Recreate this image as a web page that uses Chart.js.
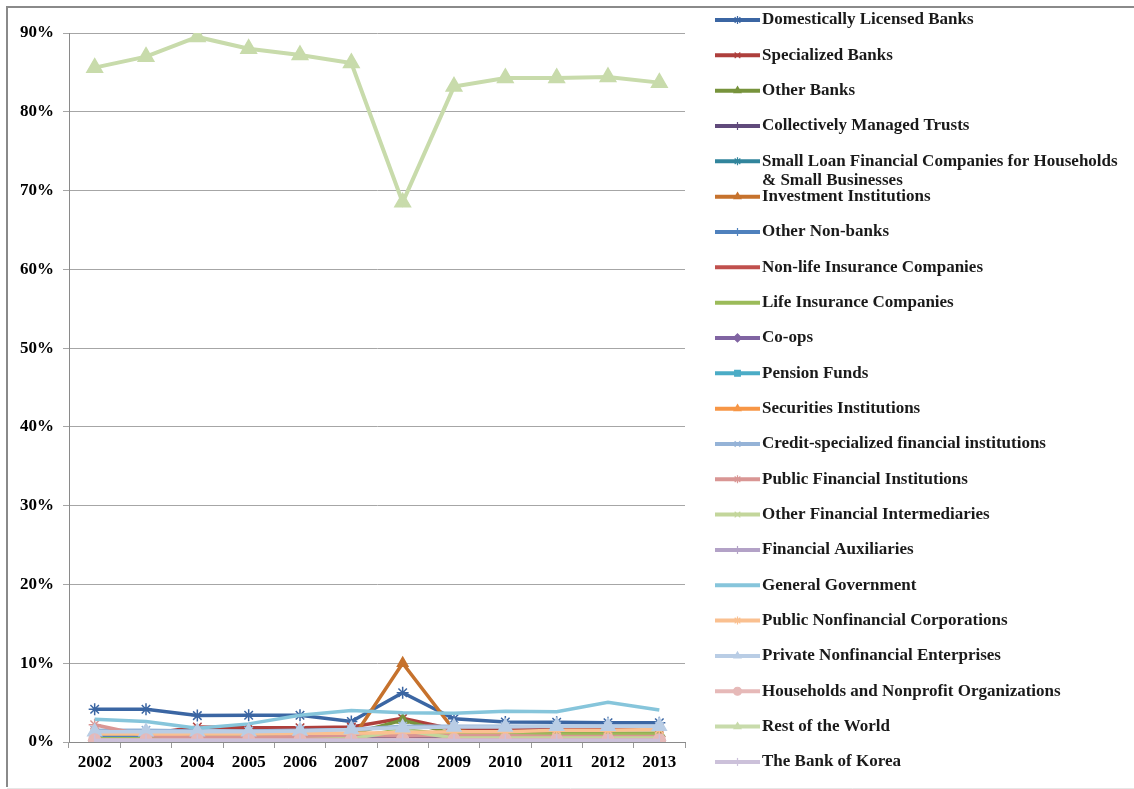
<!DOCTYPE html>
<html>
<head>
<meta charset="utf-8">
<script src="https://cdn.jsdelivr.net/npm/chart.js@4/dist/chart.umd.min.js"></script>
<style>
  html, body { margin: 0; padding: 0; background: #fff; }
  #wrap { position: relative; width: 1134px; height: 789px; }
</style>
</head>
<body>
<div id="wrap"><canvas id="flowChart" width="1134" height="789"></canvas></div>
<script>
// values in percent, 2002..2013
const years = ["2002", "2003", "2004", "2005", "2006", "2007", "2008", "2009", "2010", "2011", "2012", "2013"];

const domesticBanks   = [4.15, 4.15, 3.35, 3.4, 3.4, 2.6, 6.25, 2.95, 2.55, 2.5, 2.45, 2.45];
const specialBanks    = [1.0, 1.0, 1.9, 1.8, 1.8, 1.9, 3.0, 1.6, 1.6, 1.65, 1.6, 1.7];
const otherBanks      = [0.7, 0.7, 0.7, 0.7, 0.8, 1.0, 2.8, 1.0, 1.0, 1.1, 1.1, 1.1];
const trusts          = [0.5, 0.5, 0.4, 0.4, 0.4, 0.5, 0.6, 0.5, 0.5, 0.5, 0.5, 0.5];
const smallLoan       = [0.1, 0.1, 0.1, 0.1, 0.1, 0.1, 0.15, 0.1, 0.1, 0.1, 0.1, 0.1];
const investInst      = [0.3, 0.3, 0.2, 0.2, 0.2, 0.2, 10.0, 1.5, 0.8, 0.7, 0.7, 0.6];
const otherNonBanks   = [0.6, 0.6, 0.6, 0.6, 0.6, 0.6, 0.8, 0.8, 0.8, 0.9, 0.9, 0.9];
const nonLifeIns      = [0.3, 0.3, 0.3, 0.3, 0.3, 0.3, 0.4, 0.3, 0.3, 0.3, 0.3, 0.3];
const lifeIns         = [0.4, 0.4, 0.4, 0.5, 0.5, 0.6, 1.6, 0.9, 0.9, 1.0, 1.0, 1.0];
const coops           = [0.2, 0.2, 0.2, 0.2, 0.2, 0.2, 0.25, 0.2, 0.2, 0.2, 0.2, 0.2];
const pensionFunds    = [0, 0, 0, 0, 0, 0, 0, 0, 0, 0, 0, 0];
const securitiesInst  = [0, 0, 0, 0, 0, 0, 0, 0, 0, 0, 0, 0];
const creditSpecial   = [1.5, 1.5, 1.4, 1.4, 1.5, 1.6, 2.0, 2.0, 2.0, 2.0, 2.0, 2.0];
const publicFinInst   = [2.2, 0.8, 0.6, 0.6, 0.7, 0.8, 0.9, 0.8, 0.8, 0.7, 0.7, 0.7];
const otherFinInterm  = [0.3, 0.3, 0.3, 0.3, 0.3, 0.4, 1.5, 0.5, 0.5, 0.5, 0.5, 0.5];
const finAuxiliaries  = [0.3, 0.3, 0.3, 0.3, 0.3, 0.3, 0.35, 0.3, 0.3, 0.3, 0.3, 0.3];
const generalGov      = [2.9, 2.6, 1.75, 2.3, 3.4, 4.0, 3.7, 3.65, 3.9, 3.85, 5.05, 4.05];
const publicNonfin    = [1.0, 1.0, 1.0, 1.0, 1.1, 1.1, 1.2, 1.3, 1.3, 1.5, 1.5, 1.6];
const privateNonfin   = [1.3, 1.3, 1.3, 1.3, 1.4, 1.6, 1.8, 1.9, 1.9, 2.0, 2.0, 2.0];
const households      = [0.25, 0.25, 0.25, 0.25, 0.25, 0.25, 0.3, 0.25, 0.25, 0.25, 0.25, 0.25];
const restOfWorld     = [85.6, 87.0, 89.5, 88.0, 87.2, 86.2, 68.5, 83.2, 84.3, 84.3, 84.4, 83.7];
const bankOfKorea     = [0.2, 0.2, 0.2, 0.2, 0.2, 0.2, 0.25, 0.2, 0.2, 0.2, 0.2, 0.2];

const seriesNames = [
  "Domestically Licensed Banks", "Specialized Banks", "Other Banks", "Collectively Managed Trusts",
  ["Small Loan Financial Companies for Households", "& Small Businesses"], "Investment Institutions",
  "Other Non-banks", "Non-life Insurance Companies", "Life Insurance Companies", "Co-ops",
  "Pension Funds", "Securities Institutions", "Credit-specialized financial institutions",
  "Public Financial Institutions", "Other Financial Intermediaries", "Financial Auxiliaries",
  "General Government", "Public Nonfinancial Corporations", "Private Nonfinancial Enterprises",
  "Households and Nonprofit Organizations", "Rest of the World", "The Bank of Korea"
];

const seriesData = [
  domesticBanks, specialBanks, otherBanks, trusts, smallLoan, investInst,
  otherNonBanks, nonLifeIns, lifeIns, coops, pensionFunds, securitiesInst,
  creditSpecial, publicFinInst, otherFinInterm, finAuxiliaries, generalGov,
  publicNonfin, privateNonfin, households, restOfWorld, bankOfKorea
];

const seriesColors = [
  "#3b66a3", "#ae3f3c", "#77933c", "#604a7b", "#31859c", "#c6722d",
  "#4f81bd", "#c0504d", "#9bbb59", "#8064a2", "#4bacc6", "#f79646",
  "#95b3d7", "#d99694", "#c3d69b", "#b3a2c7", "#86c5db", "#fac090",
  "#b9cde5", "#e6b9b8", "#c8dbab", "#ccc1da"
];

// marker style per series: [pointStyle, rotation] (null = no marker)
const seriesMarkers = [
  ["star", 0], ["crossRot", 0], ["triangle", 0], ["line", 90], ["star", 0], ["triangle", 0],
  ["line", 90], null, null, ["rectRot", 0], ["rect", 0], ["triangle", 0],
  ["crossRot", 0], ["star", 0], ["crossRot", 0], ["line", 90], null, ["star", 0],
  ["triangle", 0], ["circle", 0], ["triangle", 0], ["line", 90]
];

const serif = "'Liberation Serif', 'Times New Roman', serif";

const datasets = seriesData.map((data, i) => {
  const m = seriesMarkers[i];
  const isRow = i === 20;
  let radius = 6;
  if (isRow) radius = 9;
  if (i === 18) radius = 8;
  return {
    label: Array.isArray(seriesNames[i]) ? seriesNames[i].join(" ") : seriesNames[i],
    data: data,
    borderColor: seriesColors[i],
    backgroundColor: seriesColors[i],
    pointBackgroundColor: seriesColors[i],
    pointBorderColor: seriesColors[i],
    borderWidth: isRow ? 4 : 3.5,
    pointStyle: m ? m[0] : false,
    pointRotation: m ? m[1] : 0,
    pointRadius: m ? radius : 0,
    pointBorderWidth: 1.5,
    tension: 0,
    order: seriesData.length - i
  };
});

// frame around the whole picture + legend on the right
const frameAndLegend = {
  id: "frameAndLegend",
  afterDraw(chart) {
    const ctx = chart.ctx;
    ctx.save();
    ctx.strokeStyle = "#8a8a8a";
    ctx.lineWidth = 2;
    ctx.beginPath();
    ctx.moveTo(7, 787);
    ctx.lineTo(7, 7);
    ctx.lineTo(1134, 7);
    ctx.stroke();
    ctx.strokeStyle = "#e6e6e6";
    ctx.lineWidth = 1;
    ctx.beginPath();
    ctx.moveTo(7, 788.5);
    ctx.lineTo(1134, 788.5);
    ctx.stroke();

    const helpers = Chart.helpers;
    ctx.font = "bold 17px " + serif;
    ctx.textBaseline = "middle";
    ctx.textAlign = "left";
    seriesNames.forEach((name, i) => {
      const y = 20 + i * 35.33;
      ctx.strokeStyle = seriesColors[i];
      ctx.fillStyle = seriesColors[i];
      ctx.lineWidth = 4;
      ctx.beginPath();
      ctx.moveTo(715, y);
      ctx.lineTo(760, y);
      ctx.stroke();
      const m = seriesMarkers[i];
      if (m && helpers && helpers.drawPoint) {
        ctx.lineWidth = 1.2;
        helpers.drawPoint(ctx, { pointStyle: m[0], rotation: m[1], radius: 4, borderWidth: 1.2 }, 737.5, y);
      }
      ctx.fillStyle = "#1a1a1a";
      const lines = Array.isArray(name) ? name : [name];
      lines.forEach((t, k) => ctx.fillText(t, 762, y + k * 19.5));
    });
    ctx.restore();
  }
};

new Chart(document.getElementById("flowChart"), {
  type: "line",
  data: { labels: years, datasets },
  options: {
    responsive: false,
    animation: false,
    devicePixelRatio: 1,
    layout: { padding: { left: 0, top: 33, right: 449, bottom: 0 } },
    plugins: {
      legend: { display: false },
      tooltip: { enabled: false }
    },
    scales: {
      x: {
        offset: true,
        grid: { drawOnChartArea: false, offset: true, tickLength: 6, color: "#9a9a9a" },
        border: { color: "#8a8a8a", width: 1 },
        ticks: { color: "#000", padding: 4, maxRotation: 0, font: { family: serif, size: 17, weight: "bold" } },
        afterFit: s => { s.height = 47; }
      },
      y: {
        min: 0,
        max: 90,
        ticks: {
          stepSize: 10,
          color: "#000",
          padding: 9,
          font: { family: serif, size: 17, weight: "bold" },
          callback: v => v + "%"
        },
        grid: { color: "#a6a6a6", tickLength: 6 },
        border: { color: "#8a8a8a", width: 1 },
        afterFit: s => { s.width = 69; }
      }
    }
  },
  plugins: [frameAndLegend]
});
</script>
</body>
</html>
